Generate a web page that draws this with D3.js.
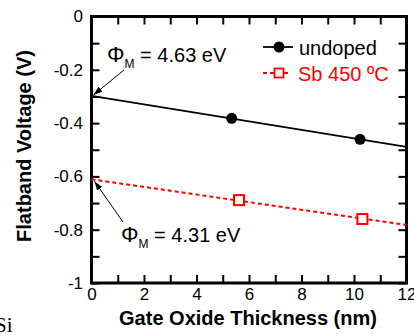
<!DOCTYPE html>
<html>
<head>
<meta charset="utf-8">
<script src="https://cdn.jsdelivr.net/npm/d3@7"></script>
<style>
  body { margin: 0; background: #fff; }
  svg { display: block; font-family: Arial, 'Liberation Sans', sans-serif; }
  .axis path { display: none; }
  .axis line { stroke: #000; stroke-width: 2; }
  .axis text { font-size: 17px; fill: #000; }
</style>
</head>
<body>
<div id="chart"></div>
<script>
// data
const undopedX = [5.34, 10.23];
const undopedY = [-0.382, -0.461];
const sbX = [5.62, 10.32];
const sbY = [-0.689, -0.760];

// fitted lines (end points, data units)
const fitX = [0, 12];
const undopedFit = [-0.298, -0.489];
const sbFit = [-0.611, -0.782];

const xTicks = [0, 1, 2, 3, 4, 5, 6, 7, 8, 9, 10, 11, 12];
const xTickLabels = ['0', '', '2', '', '4', '', '6', '', '8', '', '10', '', '12'];
const yTicks = [0, -0.1, -0.2, -0.3, -0.4, -0.5, -0.6, -0.7, -0.8, -0.9, -1];
const yTickLabels = ['0', '', '-0.2', '', '-0.4', '', '-0.6', '', '-0.8', '', '-1'];

const seriesNames = ['undoped', 'Sb 450 ºC'];

const W = 414, H = 336;
const margin = { top: 16.5, right: 7.5, bottom: 53, left: 91.5 };
const width = W - margin.left - margin.right;
const height = H - margin.top - margin.bottom;

const svg = d3.select('#chart').append('svg')
  .attr('width', W)
  .attr('height', H);

const defs = svg.append('defs');
defs.append('marker')
  .attr('id', 'arrow')
  .attr('viewBox', '0 0 10 10')
  .attr('refX', 10).attr('refY', 5)
  .attr('markerWidth', 9).attr('markerHeight', 9)
  .attr('markerUnits', 'userSpaceOnUse')
  .attr('orient', 'auto')
  .append('path')
  .attr('d', 'M0,1.5 L10,5 L0,8.5 Z')
  .attr('fill', '#000');

const xScale = d3.scaleLinear().domain([0, 12]).range([0, width]);
const yScale = d3.scaleLinear().domain([-1, 0]).range([height, 0]);

const chart = svg.append('g')
  .attr('transform', `translate(${margin.left}, ${margin.top})`);

// axes, ticks pointing inward on all four sides
const tickLen = 8;
chart.append('g')
  .attr('class', 'axis axis-x')
  .attr('transform', `translate(0, ${height})`)
  .call(d3.axisBottom(xScale).tickValues(xTicks).tickSize(-tickLen).tickPadding(5)
    .tickFormat((d, i) => xTickLabels[i]));

chart.append('g')
  .attr('class', 'axis axis-x2')
  .call(d3.axisTop(xScale).tickValues(xTicks).tickSize(-tickLen).tickFormat(''));

chart.append('g')
  .attr('class', 'axis axis-y')
  .call(d3.axisLeft(yScale).tickValues(yTicks).tickSize(-tickLen).tickPadding(8.5)
    .tickFormat((d, i) => yTickLabels[i]));

chart.append('g')
  .attr('class', 'axis axis-y2')
  .attr('transform', `translate(${width}, 0)`)
  .call(d3.axisRight(yScale).tickValues(yTicks).tickSize(-tickLen).tickFormat(''));

chart.append('rect')
  .attr('width', width)
  .attr('height', height)
  .attr('fill', 'none')
  .attr('stroke', '#000')
  .attr('stroke-width', 3);

// fit lines
const line = d3.line().x(d => xScale(d[0])).y(d => yScale(d[1]));

chart.append('path')
  .datum(fitX.map((x, i) => [x, undopedFit[i]]))
  .attr('d', line)
  .attr('fill', 'none')
  .attr('stroke', '#000')
  .attr('stroke-width', 1.8);

chart.append('path')
  .datum(fitX.map((x, i) => [x, sbFit[i]]))
  .attr('d', line)
  .attr('fill', 'none')
  .attr('stroke', '#f00')
  .attr('stroke-width', 2)
  .attr('stroke-dasharray', '4,3');

// points
chart.selectAll('circle.undoped')
  .data(undopedX.map((x, i) => [x, undopedY[i]]))
  .enter().append('circle')
  .attr('class', 'undoped')
  .attr('cx', d => xScale(d[0]))
  .attr('cy', d => yScale(d[1]))
  .attr('r', 5.5)
  .attr('fill', '#000');

const sq = 10;
chart.selectAll('rect.sb')
  .data(sbX.map((x, i) => [x, sbY[i]]))
  .enter().append('rect')
  .attr('class', 'sb')
  .attr('x', d => xScale(d[0]) - sq / 2)
  .attr('y', d => yScale(d[1]) - sq / 2)
  .attr('width', sq)
  .attr('height', sq)
  .attr('fill', '#fff')
  .attr('stroke', '#f00')
  .attr('stroke-width', 2);

// annotations
function phiLabel(x, y, value) {
  const t = svg.append('text')
    .attr('x', x).attr('y', y)
    .attr('font-size', 20)
    .attr('fill', '#000');
  t.append('tspan').attr('font-size', 22).text('Φ');
  t.append('tspan').attr('font-size', 12).attr('dy', 6).text('M');
  t.append('tspan').attr('dy', -6).text(' = ' + value + ' eV');
}
phiLabel(107, 62, '4.63');
phiLabel(121, 241.5, '4.31');

svg.append('line')
  .attr('x1', 124).attr('y1', 70)
  .attr('x2', margin.left + 2).attr('y2', yScale(undopedFit[0]) + margin.top - 1)
  .attr('stroke', '#000').attr('stroke-width', 1)
  .attr('marker-end', 'url(#arrow)');

svg.append('line')
  .attr('x1', 123).attr('y1', 222)
  .attr('x2', margin.left + 3).attr('y2', yScale(sbFit[0]) + margin.top + 2)
  .attr('stroke', '#000').attr('stroke-width', 1)
  .attr('marker-end', 'url(#arrow)');

// legend
const legend = svg.append('g').attr('transform', 'translate(263, 47)');
legend.append('line')
  .attr('x1', 0).attr('x2', 30).attr('y1', 0).attr('y2', 0)
  .attr('stroke', '#000').attr('stroke-width', 1.8);
legend.append('circle')
  .attr('cx', 16).attr('cy', 0).attr('r', 5.5).attr('fill', '#000');
legend.append('text')
  .attr('x', 36).attr('y', 8)
  .attr('font-size', 20)
  .text(seriesNames[0]);

legend.append('line')
  .attr('x1', 0).attr('x2', 26).attr('y1', 26).attr('y2', 26)
  .attr('stroke', '#f00').attr('stroke-width', 2)
  .attr('stroke-dasharray', '4,3');
legend.append('rect')
  .attr('x', 16 - 4.5).attr('y', 26 - 4.5)
  .attr('width', 9).attr('height', 9)
  .attr('fill', '#fff').attr('stroke', '#f00').attr('stroke-width', 1.8);
legend.append('text')
  .attr('x', 35).attr('y', 34)
  .attr('font-size', 20)
  .attr('fill', '#f00')
  .text(seriesNames[1]);

// axis titles
svg.append('text')
  .attr('x', margin.left + width / 2 - 1)
  .attr('y', 325)
  .attr('text-anchor', 'middle')
  .attr('font-size', 20)
  .attr('font-weight', 'bold')
  .text('Gate Oxide Thickness (nm)');

svg.append('text')
  .attr('transform', 'translate(31, 146) rotate(-90)')
  .attr('text-anchor', 'middle')
  .attr('font-size', 20)
  .attr('font-weight', 'bold')
  .text('Flatband Voltage (V)');

// stray fragment of surrounding page text at the bottom-left corner
svg.append('text')
  .attr('x', -5).attr('y', 332)
  .attr('font-family', "'Liberation Serif', 'Times New Roman', serif")
  .attr('font-size', 21)
  .text('Si');
</script>
</body>
</html>
